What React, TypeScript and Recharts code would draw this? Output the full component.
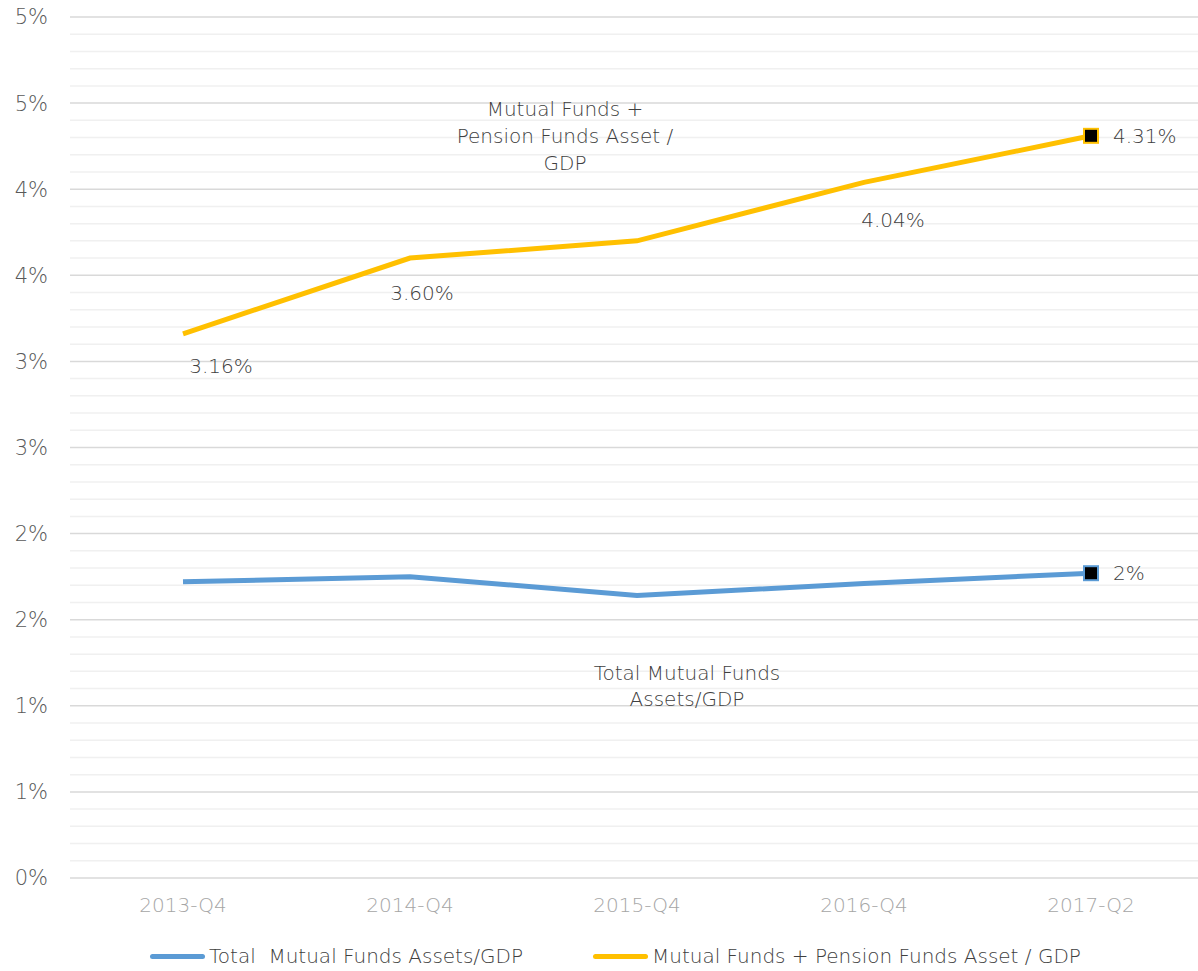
import React from 'react';
import {
  LineChart,
  Line,
  XAxis,
  YAxis,
  CartesianGrid,
  Legend,
  LabelList,
  ReferenceLine,
  ReferenceDot,
} from 'recharts';

const quarters = ['2013-Q4', '2014-Q4', '2015-Q4', '2016-Q4', '2017-Q2'];
const mutualFunds = [1.72, 1.75, 1.64, 1.71, 1.77];
const mutualPension = [3.16, 3.6, 3.7, 4.04, 4.31];
const majorTicks = [0, 0.5, 1, 1.5, 2, 2.5, 3, 3.5, 4, 4.5, 5];

const MF_NAME = 'Total  Mutual Funds Assets/GDP';
const MP_NAME = 'Mutual Funds + Pension Funds Asset / GDP';
const BLUE = '#5b9bd5';
const YELLOW = '#ffc000';
const FONT = '"DejaVu Sans", sans-serif';
const WEIGHT = 200;

const data = quarters.map((q, i) => ({
  quarter: q,
  mf: mutualFunds[i],
  mp: mutualPension[i],
}));

// minor gridlines every 0.1 between the major ones
const minorTicks: number[] = [];
for (let i = 1; i < 50; i++) {
  if (i % 5 !== 0) minorTicks.push(i / 10);
}

// where each data label sits relative to its point (index -> [dx, dy, anchor])
const mpLabelPos: Record<number, [number, number, string]> = {
  0: [38, 32, 'middle'],
  1: [12, 35, 'middle'],
  3: [29, 38, 'middle'],
  4: [22, 0, 'start'],
};

const lastIdx = quarters.length - 1;
const legendOrder = ['mf', 'mp'];

const squareDot = (color: string) => (props: any) => {
  const { cx, cy, index } = props;
  if (index !== lastIdx) return <g key={`d-${index}`} />;
  return (
    <rect
      key={`d-${index}`}
      x={cx - 7}
      y={cy - 7}
      width={14}
      height={14}
      fill="#000"
      stroke={color}
      strokeWidth={2}
    />
  );
};

const mpLabel = (props: any) => {
  const { x, y, value, index } = props;
  const pos = mpLabelPos[index];
  if (!pos) return null;
  return (
    <text
      x={x + pos[0]}
      y={y + pos[1]}
      textAnchor={pos[2] as any}
      dominantBaseline="central"
      fill="#404040"
      fontSize={20}
      fontWeight={WEIGHT}
      fontFamily={FONT}
    >
      {`${Number(value).toFixed(2)}%`}
    </text>
  );
};

const mfLabel = (props: any) => {
  const { x, y, value, index } = props;
  if (index !== lastIdx) return null;
  return (
    <text
      x={x + 22}
      y={y}
      dominantBaseline="central"
      fill="#404040"
      fontSize={20}
      fontWeight={WEIGHT}
      fontFamily={FONT}
    >
      {`${Math.round(value)}%`}
    </text>
  );
};

const seriesName = (lines: string[], dx: number, lineH: number) => (props: any) => {
  const { viewBox } = props;
  const cx = viewBox.x + dx;
  const cy = viewBox.y;
  const start = -((lines.length - 1) * lineH) / 2;
  return (
    <text
      x={cx}
      y={cy}
      textAnchor="middle"
      fill="#404040"
      fontSize={20}
      fontWeight={WEIGHT}
      fontFamily={FONT}
    >
      {lines.map((l, i) => (
        <tspan key={i} x={cx} y={cy + start + i * lineH} dominantBaseline="central">
          {l}
        </tspan>
      ))}
    </text>
  );
};

const renderLegend = (props: any) => {
  const items = [...(props.payload || [])].sort(
    (a: any, b: any) => legendOrder.indexOf(a.dataKey) - legendOrder.indexOf(b.dataKey)
  );
  const lefts = [150, 593];
  return (
    <div style={{ position: 'relative', height: 30, width: '100%' }}>
      {items.map((p: any, i: number) => (
        <div
          key={p.value}
          style={{
            position: 'absolute',
            left: lefts[i],
            top: 0,
            height: 30,
            display: 'flex',
            alignItems: 'center',
            fontFamily: FONT,
            fontWeight: WEIGHT,
            fontSize: 20,
            color: '#404040',
            whiteSpace: 'pre',
          }}
        >
          <span
            style={{
              display: 'inline-block',
              width: 55,
              height: 5,
              borderRadius: 3,
              background: p.color,
              marginRight: 4,
            }}
          />
          {p.value}
        </div>
      ))}
    </div>
  );
};

const FundsToGdpChart: React.FC = () => {
  return (
    <div
      style={{
        position: 'absolute',
        left: 0,
        top: 0,
        width: 1198,
        height: 971,
        overflow: 'hidden',
        background: '#fff',
      }}
    >
      <LineChart width={1204} height={971} data={data} margin={{ top: 17, right: 0, left: 0, bottom: 0 }}>
        {minorTicks.map((v) => (
          <ReferenceLine key={v} y={v} stroke="#f0f0f0" strokeWidth={1.5} />
        ))}
        <CartesianGrid vertical={false} stroke="#d9d9d9" strokeWidth={1.5} />
        <XAxis
          dataKey="quarter"
          height={63}
          padding={{ left: 113, right: 113 }}
          axisLine={false}
          tickLine={false}
          tickSize={0}
          tickMargin={20}
          interval={0}
          tick={{ fill: '#a6a6a6', fontSize: 20, fontFamily: FONT, fontWeight: WEIGHT }}
        />
        <YAxis
          width={70}
          domain={[0, 5]}
          ticks={majorTicks}
          interval={0}
          axisLine={false}
          tickLine={false}
          tickSize={0}
          tickMargin={22}
          tickFormatter={(v: number) => `${Math.round(v)}%`}
          tick={{ fill: '#595959', fontSize: 21, fontFamily: FONT, fontWeight: WEIGHT }}
        />
        <Legend verticalAlign="bottom" content={renderLegend} />
        <Line
          dataKey="mf"
          name={MF_NAME}
          stroke={BLUE}
          strokeWidth={5}
          dot={squareDot(BLUE)}
          activeDot={false}
          isAnimationActive={false}
        >
          <LabelList dataKey="mf" content={mfLabel} />
        </Line>
        <Line
          dataKey="mp"
          name={MP_NAME}
          stroke={YELLOW}
          strokeWidth={5}
          dot={squareDot(YELLOW)}
          activeDot={false}
          isAnimationActive={false}
        >
          <LabelList dataKey="mp" content={mpLabel} />
        </Line>
        <ReferenceDot
          x="2015-Q4"
          y={4.31}
          r={0}
          ifOverflow="visible"
          label={seriesName(['Mutual Funds +', 'Pension Funds Asset /', 'GDP'], -72, 27)}
        />
        <ReferenceDot
          x="2015-Q4"
          y={1.115}
          r={0}
          ifOverflow="visible"
          label={seriesName(['Total  Mutual Funds', 'Assets/GDP'], 50, 26)}
        />
      </LineChart>
    </div>
  );
};

export default function App() {
  return <FundsToGdpChart />;
}
